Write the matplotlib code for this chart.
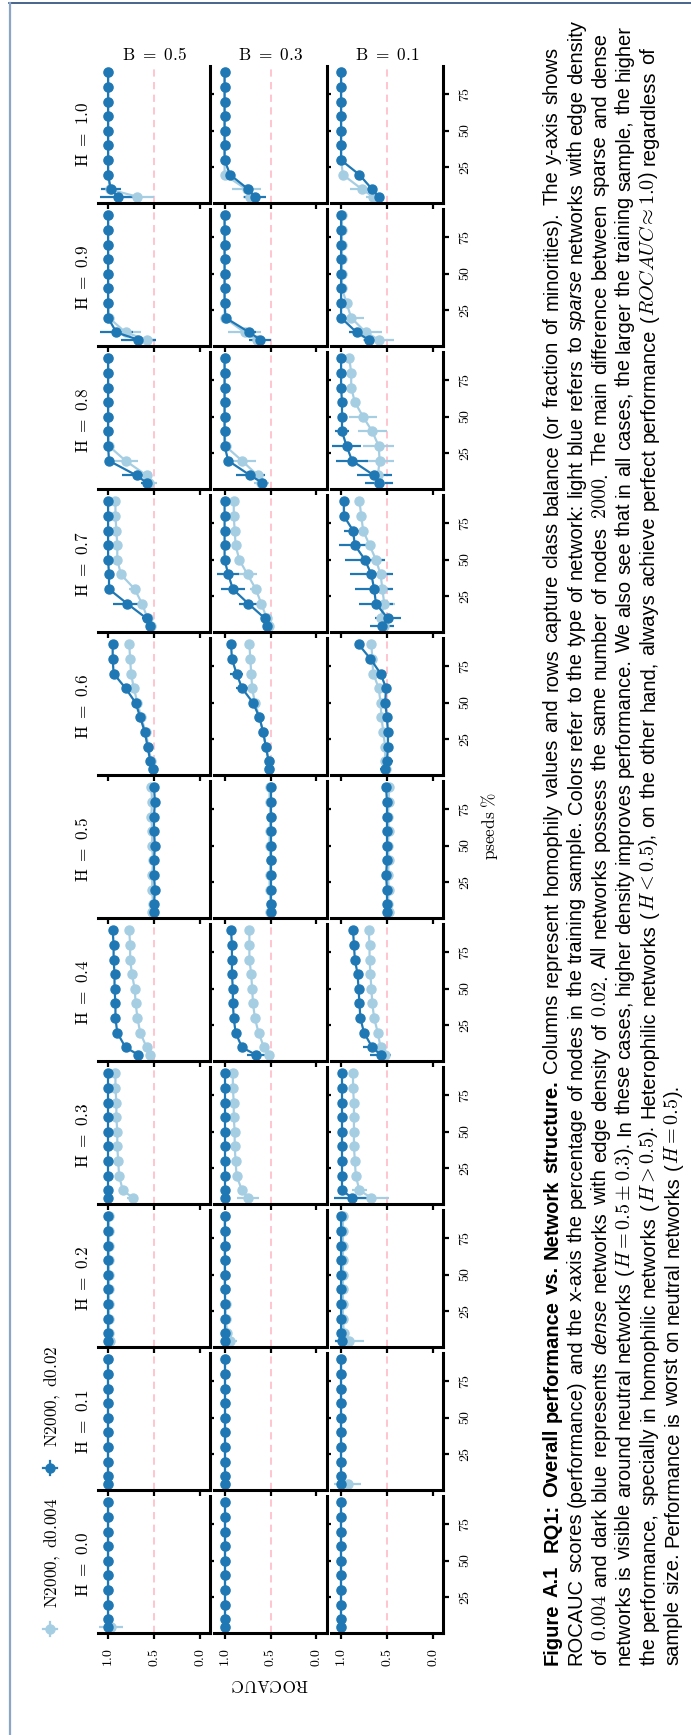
import matplotlib
matplotlib.use("Agg")
import matplotlib.pyplot as plt
from matplotlib.lines import Line2D

# ---- data ----
pseeds = [5, 10, 20, 30, 40, 50, 60, 70, 80, 90]
h_values = [0.0, 0.1, 0.2, 0.3, 0.4, 0.5, 0.6, 0.7, 0.8, 0.9, 1.0]
b_values = [0.5, 0.3, 0.1]
xtick_labels = ["0.0", "0.5", "1.0"]
ytick_labels = ["25", "50", "75"]
legend_labels = ["N2000, d0.004", "N2000, d0.02"]

# rows: H = 0.0 ... 1.0, values in pseeds order
dense_b05 = [
    [1.00, 1.00, 1.00, 1.00, 1.00, 1.00, 1.00, 1.00, 1.00, 1.00],
    [1.00, 1.00, 1.00, 1.00, 1.00, 1.00, 1.00, 1.00, 1.00, 1.00],
    [1.00, 1.00, 1.00, 1.00, 1.00, 1.00, 1.00, 1.00, 1.00, 1.00],
    [1.00, 1.00, 1.00, 1.00, 1.00, 1.00, 1.00, 1.00, 1.00, 1.00],
    [0.67, 0.81, 0.90, 0.92, 0.92, 0.93, 0.93, 0.94, 0.94, 0.95],
    [0.50, 0.50, 0.49, 0.50, 0.50, 0.49, 0.50, 0.50, 0.49, 0.50],
    [0.51, 0.54, 0.57, 0.60, 0.65, 0.70, 0.81, 0.94, 0.95, 0.95],
    [0.54, 0.58, 0.79, 0.99, 0.99, 1.00, 1.00, 1.00, 1.00, 1.00],
    [0.58, 0.69, 0.99, 1.00, 1.00, 1.00, 1.00, 1.00, 1.00, 1.00],
    [0.67, 0.91, 1.00, 1.00, 1.00, 1.00, 1.00, 1.00, 1.00, 1.00],
    [0.89, 0.97, 1.00, 1.00, 1.00, 1.00, 1.00, 1.00, 1.00, 1.00],
]
sparse_b05 = [
    [0.97, 1.00, 1.00, 1.00, 1.00, 1.00, 1.00, 1.00, 1.00, 1.00],
    [1.00, 1.00, 1.00, 1.00, 1.00, 1.00, 1.00, 1.00, 1.00, 1.00],
    [0.98, 0.99, 0.99, 0.99, 0.99, 0.99, 0.99, 0.99, 0.99, 0.99],
    [0.73, 0.84, 0.88, 0.89, 0.90, 0.90, 0.91, 0.91, 0.92, 0.92],
    [0.54, 0.58, 0.65, 0.68, 0.70, 0.71, 0.74, 0.76, 0.76, 0.77],
    [0.52, 0.51, 0.52, 0.52, 0.51, 0.52, 0.52, 0.53, 0.52, 0.53],
    [0.51, 0.53, 0.56, 0.59, 0.64, 0.68, 0.72, 0.75, 0.76, 0.77],
    [0.53, 0.57, 0.63, 0.71, 0.86, 0.90, 0.90, 0.91, 0.92, 0.92],
    [0.55, 0.58, 0.81, 0.99, 1.00, 1.00, 1.00, 1.00, 1.00, 1.00],
    [0.58, 0.81, 0.99, 1.00, 1.00, 1.00, 1.00, 1.00, 1.00, 1.00],
    [0.68, 0.98, 1.00, 1.00, 1.00, 1.00, 1.00, 1.00, 1.00, 1.00],
]
dense_err_b05 = [
    [0.01, 0.00, 0.00, 0.00, 0.00, 0.00, 0.00, 0.00, 0.00, 0.00],
    [0.00, 0.00, 0.00, 0.00, 0.00, 0.00, 0.00, 0.00, 0.00, 0.00],
    [0.01, 0.00, 0.00, 0.00, 0.00, 0.00, 0.00, 0.00, 0.00, 0.00],
    [0.01, 0.00, 0.00, 0.00, 0.00, 0.00, 0.00, 0.00, 0.00, 0.00],
    [0.02, 0.02, 0.01, 0.01, 0.01, 0.01, 0.01, 0.01, 0.01, 0.01],
    [0.01, 0.01, 0.01, 0.01, 0.01, 0.01, 0.01, 0.01, 0.01, 0.01],
    [0.02, 0.02, 0.02, 0.02, 0.02, 0.02, 0.02, 0.02, 0.02, 0.02],
    [0.01, 0.05, 0.16, 0.01, 0.01, 0.00, 0.00, 0.00, 0.00, 0.00],
    [0.06, 0.16, 0.01, 0.00, 0.00, 0.00, 0.00, 0.00, 0.00, 0.00],
    [0.19, 0.18, 0.01, 0.00, 0.00, 0.00, 0.00, 0.00, 0.00, 0.00],
    [0.20, 0.11, 0.00, 0.00, 0.00, 0.00, 0.00, 0.00, 0.00, 0.00],
]
sparse_err_b05 = [
    [0.13, 0.00, 0.00, 0.00, 0.00, 0.00, 0.00, 0.00, 0.00, 0.00],
    [0.00, 0.00, 0.00, 0.00, 0.00, 0.00, 0.00, 0.00, 0.00, 0.00],
    [0.02, 0.01, 0.00, 0.00, 0.00, 0.00, 0.00, 0.00, 0.00, 0.00],
    [0.06, 0.01, 0.01, 0.01, 0.01, 0.01, 0.01, 0.01, 0.01, 0.01],
    [0.02, 0.02, 0.01, 0.01, 0.01, 0.01, 0.01, 0.01, 0.01, 0.01],
    [0.01, 0.01, 0.01, 0.01, 0.01, 0.01, 0.01, 0.01, 0.01, 0.01],
    [0.02, 0.02, 0.02, 0.02, 0.02, 0.02, 0.02, 0.02, 0.02, 0.02],
    [0.02, 0.02, 0.05, 0.06, 0.03, 0.01, 0.01, 0.01, 0.01, 0.01],
    [0.08, 0.04, 0.14, 0.01, 0.00, 0.00, 0.00, 0.00, 0.00, 0.00],
    [0.10, 0.17, 0.01, 0.00, 0.00, 0.00, 0.00, 0.00, 0.00, 0.00],
    [0.18, 0.02, 0.00, 0.00, 0.00, 0.00, 0.00, 0.00, 0.00, 0.00],
]

dense_b03 = [
    [1.00, 1.00, 1.00, 1.00, 1.00, 1.00, 1.00, 1.00, 1.00, 1.00],
    [1.00, 1.00, 1.00, 1.00, 1.00, 1.00, 1.00, 1.00, 1.00, 1.00],
    [1.00, 1.00, 1.00, 1.00, 1.00, 1.00, 1.00, 1.00, 1.00, 1.00],
    [1.00, 1.00, 1.00, 1.00, 1.00, 1.00, 1.00, 1.00, 1.00, 1.00],
    [0.66, 0.81, 0.88, 0.90, 0.91, 0.91, 0.92, 0.92, 0.92, 0.93],
    [0.50, 0.50, 0.50, 0.50, 0.50, 0.50, 0.50, 0.50, 0.50, 0.50],
    [0.52, 0.52, 0.55, 0.58, 0.62, 0.69, 0.81, 0.87, 0.92, 0.93],
    [0.54, 0.56, 0.74, 0.91, 0.96, 1.00, 1.00, 1.00, 1.00, 1.00],
    [0.59, 0.72, 0.96, 1.00, 1.00, 1.00, 1.00, 1.00, 1.00, 1.00],
    [0.61, 0.73, 0.99, 1.00, 1.00, 1.00, 1.00, 1.00, 1.00, 1.00],
    [0.67, 0.74, 0.94, 1.00, 1.00, 1.00, 1.00, 1.00, 1.00, 1.00],
]
sparse_b03 = [
    [1.00, 1.00, 1.00, 1.00, 1.00, 1.00, 1.00, 1.00, 1.00, 1.00],
    [1.00, 1.00, 1.00, 1.00, 1.00, 1.00, 1.00, 1.00, 1.00, 1.00],
    [0.94, 0.97, 0.99, 0.99, 1.00, 1.00, 1.00, 1.00, 1.00, 1.00],
    [0.75, 0.81, 0.87, 0.88, 0.89, 0.89, 0.90, 0.90, 0.91, 0.91],
    [0.52, 0.57, 0.63, 0.67, 0.69, 0.70, 0.71, 0.73, 0.73, 0.73],
    [0.51, 0.50, 0.51, 0.51, 0.50, 0.51, 0.51, 0.50, 0.51, 0.51],
    [0.52, 0.52, 0.55, 0.58, 0.62, 0.67, 0.70, 0.71, 0.72, 0.73],
    [0.52, 0.54, 0.60, 0.66, 0.75, 0.84, 0.88, 0.89, 0.90, 0.90],
    [0.60, 0.64, 0.81, 0.99, 1.00, 1.00, 1.00, 1.00, 1.00, 1.00],
    [0.65, 0.78, 1.00, 1.00, 1.00, 1.00, 1.00, 1.00, 1.00, 1.00],
    [0.72, 0.76, 1.00, 1.00, 1.00, 1.00, 1.00, 1.00, 1.00, 1.00],
]
dense_err_b03 = [
    [0.00, 0.00, 0.00, 0.00, 0.00, 0.00, 0.00, 0.00, 0.00, 0.00],
    [0.00, 0.00, 0.00, 0.00, 0.00, 0.00, 0.00, 0.00, 0.00, 0.00],
    [0.00, 0.00, 0.00, 0.00, 0.00, 0.00, 0.00, 0.00, 0.00, 0.00],
    [0.00, 0.00, 0.00, 0.00, 0.00, 0.00, 0.00, 0.00, 0.00, 0.00],
    [0.10, 0.02, 0.01, 0.01, 0.01, 0.01, 0.01, 0.01, 0.01, 0.01],
    [0.01, 0.01, 0.01, 0.01, 0.01, 0.01, 0.01, 0.01, 0.01, 0.01],
    [0.02, 0.02, 0.02, 0.02, 0.02, 0.03, 0.07, 0.07, 0.02, 0.02],
    [0.02, 0.02, 0.10, 0.13, 0.12, 0.01, 0.00, 0.00, 0.00, 0.00],
    [0.03, 0.16, 0.03, 0.00, 0.00, 0.00, 0.00, 0.00, 0.00, 0.00],
    [0.12, 0.07, 0.01, 0.00, 0.00, 0.00, 0.00, 0.00, 0.00, 0.00],
    [0.12, 0.05, 0.02, 0.00, 0.00, 0.00, 0.00, 0.00, 0.00, 0.00],
]
sparse_err_b03 = [
    [0.00, 0.00, 0.00, 0.00, 0.00, 0.00, 0.00, 0.00, 0.00, 0.00],
    [0.00, 0.00, 0.00, 0.00, 0.00, 0.00, 0.00, 0.00, 0.00, 0.00],
    [0.08, 0.02, 0.01, 0.00, 0.00, 0.00, 0.00, 0.00, 0.00, 0.00],
    [0.12, 0.02, 0.01, 0.01, 0.01, 0.01, 0.01, 0.01, 0.01, 0.01],
    [0.02, 0.02, 0.01, 0.01, 0.01, 0.01, 0.01, 0.01, 0.01, 0.01],
    [0.01, 0.01, 0.01, 0.01, 0.01, 0.01, 0.01, 0.01, 0.01, 0.01],
    [0.02, 0.02, 0.02, 0.02, 0.02, 0.02, 0.02, 0.02, 0.02, 0.02],
    [0.02, 0.02, 0.05, 0.06, 0.10, 0.02, 0.01, 0.01, 0.01, 0.01],
    [0.08, 0.05, 0.15, 0.01, 0.00, 0.00, 0.00, 0.00, 0.00, 0.00],
    [0.05, 0.18, 0.01, 0.00, 0.00, 0.00, 0.00, 0.00, 0.00, 0.00],
    [0.08, 0.16, 0.01, 0.00, 0.00, 0.00, 0.00, 0.00, 0.00, 0.00],
]

dense_b01 = [
    [1.00, 1.00, 1.00, 1.00, 1.00, 1.00, 1.00, 1.00, 1.00, 1.00],
    [1.00, 1.00, 1.00, 1.00, 1.00, 1.00, 1.00, 1.00, 1.00, 1.00],
    [0.99, 1.00, 1.00, 1.00, 1.00, 1.00, 1.00, 1.00, 1.00, 1.00],
    [0.88, 0.99, 0.99, 0.99, 0.99, 0.99, 0.99, 0.99, 0.99, 0.99],
    [0.57, 0.66, 0.75, 0.79, 0.80, 0.81, 0.82, 0.85, 0.86, 0.87],
    [0.50, 0.50, 0.50, 0.51, 0.50, 0.50, 0.50, 0.50, 0.50, 0.51],
    [0.52, 0.50, 0.49, 0.49, 0.50, 0.52, 0.51, 0.57, 0.68, 0.81],
    [0.55, 0.49, 0.62, 0.64, 0.67, 0.74, 0.85, 0.87, 0.97, 0.97],
    [0.59, 0.64, 0.88, 0.94, 0.99, 0.99, 0.99, 1.00, 1.00, 1.00],
    [0.70, 0.83, 1.00, 1.00, 1.00, 1.00, 1.00, 1.00, 1.00, 1.00],
    [0.59, 0.66, 0.80, 1.00, 1.00, 1.00, 1.00, 1.00, 1.00, 1.00],
]
sparse_b01 = [
    [1.00, 1.00, 1.00, 1.00, 1.00, 1.00, 1.00, 1.00, 1.00, 1.00],
    [0.93, 1.00, 1.00, 1.00, 1.00, 1.00, 1.00, 1.00, 1.00, 1.00],
    [0.91, 0.97, 0.98, 0.98, 0.98, 0.98, 0.98, 0.98, 0.98, 0.98],
    [0.67, 0.80, 0.84, 0.85, 0.86, 0.86, 0.86, 0.86, 0.87, 0.87],
    [0.52, 0.57, 0.60, 0.64, 0.66, 0.67, 0.68, 0.69, 0.69, 0.70],
    [0.48, 0.49, 0.48, 0.49, 0.48, 0.49, 0.48, 0.49, 0.48, 0.48],
    [0.51, 0.52, 0.52, 0.54, 0.56, 0.57, 0.59, 0.65, 0.66, 0.67],
    [0.53, 0.57, 0.53, 0.55, 0.57, 0.62, 0.69, 0.76, 0.78, 0.80],
    [0.59, 0.60, 0.58, 0.59, 0.66, 0.76, 0.85, 0.89, 0.89, 0.91],
    [0.59, 0.73, 0.89, 0.94, 0.99, 0.99, 0.99, 0.99, 0.99, 0.99],
    [0.65, 0.77, 0.98, 1.00, 1.00, 1.00, 1.00, 1.00, 1.00, 1.00],
]
dense_err_b01 = [
    [0.00, 0.00, 0.00, 0.00, 0.00, 0.00, 0.00, 0.00, 0.00, 0.00],
    [0.01, 0.00, 0.00, 0.00, 0.00, 0.00, 0.00, 0.00, 0.00, 0.00],
    [0.08, 0.01, 0.00, 0.00, 0.00, 0.00, 0.00, 0.00, 0.00, 0.00],
    [0.20, 0.01, 0.01, 0.01, 0.01, 0.01, 0.01, 0.01, 0.01, 0.01],
    [0.11, 0.10, 0.02, 0.01, 0.01, 0.01, 0.01, 0.01, 0.01, 0.01],
    [0.03, 0.02, 0.02, 0.02, 0.02, 0.02, 0.02, 0.02, 0.02, 0.03],
    [0.06, 0.06, 0.05, 0.03, 0.02, 0.02, 0.02, 0.02, 0.02, 0.02],
    [0.13, 0.14, 0.19, 0.21, 0.23, 0.22, 0.17, 0.10, 0.02, 0.02],
    [0.15, 0.19, 0.17, 0.16, 0.08, 0.02, 0.01, 0.00, 0.00, 0.00],
    [0.05, 0.08, 0.01, 0.00, 0.00, 0.00, 0.00, 0.00, 0.00, 0.00],
    [0.03, 0.03, 0.02, 0.00, 0.00, 0.00, 0.00, 0.00, 0.00, 0.00],
]
sparse_err_b01 = [
    [0.00, 0.00, 0.00, 0.00, 0.00, 0.00, 0.00, 0.00, 0.00, 0.00],
    [0.15, 0.00, 0.00, 0.00, 0.00, 0.00, 0.00, 0.00, 0.00, 0.00],
    [0.16, 0.02, 0.01, 0.01, 0.01, 0.01, 0.01, 0.01, 0.01, 0.01],
    [0.19, 0.08, 0.02, 0.01, 0.01, 0.01, 0.01, 0.01, 0.01, 0.01],
    [0.02, 0.02, 0.01, 0.01, 0.01, 0.01, 0.01, 0.01, 0.01, 0.01],
    [0.02, 0.02, 0.02, 0.02, 0.02, 0.02, 0.02, 0.02, 0.02, 0.02],
    [0.03, 0.03, 0.03, 0.03, 0.02, 0.02, 0.02, 0.02, 0.02, 0.02],
    [0.03, 0.04, 0.12, 0.10, 0.10, 0.08, 0.03, 0.02, 0.02, 0.02],
    [0.05, 0.05, 0.16, 0.17, 0.16, 0.15, 0.03, 0.02, 0.02, 0.02],
    [0.17, 0.18, 0.14, 0.02, 0.01, 0.01, 0.01, 0.01, 0.01, 0.01],
    [0.08, 0.13, 0.02, 0.00, 0.00, 0.00, 0.00, 0.00, 0.00, 0.00],
]

dense = [dense_b05, dense_b03, dense_b01]
sparse = [sparse_b05, sparse_b03, sparse_b01]
dense_err = [dense_err_b05, dense_err_b03, dense_err_b01]
sparse_err = [sparse_err_b05, sparse_err_b03, sparse_err_b01]

light = "#a6cee3"
dark = "#1f78b4"

plt.rcParams["mathtext.fontset"] = "cm"
plt.rcParams["font.family"] = ["Liberation Sans", "DejaVu Sans"]

W, H = 691, 1735
fig = plt.figure(figsize=(W / 100, H / 100), dpi=100)


def fx(px):
    return px / W


def fy(py):
    return 1 - py / H


gs = fig.add_gridspec(11, 3, left=fx(98), right=fx(443), top=fy(66),
                      bottom=fy(1633), wspace=0.04, hspace=0.044)

axes = {}
for c, bv in enumerate(b_values):
    for i, hv in enumerate(h_values):
        r = len(h_values) - 1 - i
        ax = fig.add_subplot(gs[r, c])
        axes[(r, c)] = ax
        ax.axvline(0.5, color="pink", ls=(0, (4, 3)), lw=1.3, zorder=0)
        ax.errorbar(sparse[c][i], pseeds, xerr=sparse_err[c][i], color=light,
                    marker="o", ms=6.5, lw=1.6, elinewidth=1.6, capsize=0)
        ax.errorbar(dense[c][i], pseeds, xerr=dense_err[c][i], color=dark,
                    marker="o", ms=6.5, lw=1.6, elinewidth=1.6, capsize=0)
        ax.set_xlim(1.11, -0.11)
        ax.set_ylim(0.75, 94.25)
        for s in ["left", "top"]:
            ax.spines[s].set_visible(False)
        for s in ["bottom", "right"]:
            ax.spines[s].set_linewidth(2.2)
        ax.yaxis.tick_right()
        ax.set_xticks([0.0, 0.5, 1.0])
        ax.set_yticks([25, 50, 75])
        ax.tick_params(axis="both", direction="out", length=4.5, width=1.6,
                       pad=6, labelsize=10)
        if r == len(h_values) - 1:
            ax.set_xticklabels(["$%s$" % t for t in xtick_labels], rotation=90)
        else:
            ax.tick_params(labelbottom=False)
        if c == 2:
            ax.set_yticklabels(["$%s$" % t for t in ytick_labels], rotation=90,
                               va="center")
        else:
            ax.tick_params(labelright=False)

# column titles (B) and row titles (H)
for c, bv in enumerate(b_values):
    pos = axes[(0, c)].get_position()
    fig.text((pos.x0 + pos.x1) / 2, fy(55), r"$\mathrm{B\ =\ %.1f}$" % bv,
             ha="center", va="center", fontsize=12.4)
for i, hv in enumerate(h_values):
    pos = axes[(len(h_values) - 1 - i, 0)].get_position()
    fig.text(fx(83), (pos.y0 + pos.y1) / 2, r"$\mathrm{H\ =\ %.1f}$" % hv,
             rotation=90, ha="center", va="center", fontsize=12.4)

pos = axes[(10, 1)].get_position()
fig.text((pos.x0 + pos.x1) / 2, fy(1684), r"$\mathrm{ROCAUC}$", rotation=180,
         ha="center", va="center", fontsize=12.4)
fig.text(fx(490), fy(826), r"$\mathrm{pseeds}\ \%$", rotation=90,
         ha="center", va="center", fontsize=12.4)

# legend (drawn rotated by hand)
for (yc, ytxt), color, lab in zip([(1629, 1608), (1468, 1447)], [light, dark],
                                  legend_labels):
    fig.add_artist(Line2D([fx(43), fx(57)], [fy(yc), fy(yc)], color=color,
                          lw=1.6, transform=fig.transFigure))
    fig.add_artist(Line2D([fx(50), fx(50)], [fy(yc - 7), fy(yc + 7)],
                          color=color, lw=1.6, transform=fig.transFigure))
    fig.add_artist(Line2D([fx(50)], [fy(yc)], marker="o", ms=6.5, color=color,
                          transform=fig.transFigure))
    fig.text(fx(52), fy(ytxt), r"$\mathrm{%s}$" % lab.replace(" ", r"\ "),
             rotation=90, rotation_mode="anchor", ha="left", va="center",
             fontsize=12.4)

# page frame
fig.add_artist(Line2D([fx(9), 1], [fy(3), fy(3)], color="#2a4a78", lw=1.2,
                      transform=fig.transFigure))
fig.add_artist(Line2D([fx(10), fx(10)], [fy(3), 0], color="#8ca4c6", lw=1.6,
                      transform=fig.transFigure))

# caption, rotated, one text per word so lines can be justified
caption_lines = [
    [("Figure A.1  RQ1: Overall performance vs. Network structure.", "b", False),
     ("Columns represent homophily values and rows capture class balance (or fraction of minorities). The y-axis shows", "r", True)],
    [("ROCAUC scores (performance) and the x-axis the percentage of nodes in the training sample. Colors refer to the type of network: light blue refers to", "r", False),
     ("sparse", "i", True), ("networks with edge density", "r", True)],
    [("of", "r", False), ("$0.004$", "m", True), ("and dark blue represents", "r", True),
     ("dense", "i", True), ("networks with edge density of", "r", True), ("$0.02$", "m", True),
     (". All networks possess the same number of nodes", "r", False), ("$2000$", "m", True),
     (". The main difference between sparse and dense", "r", False)],
    [("networks is visible around neutral networks (", "r", False), (r"$H = 0.5 \pm 0.3$", "m", False),
     ("). In these cases, higher density improves performance. We also see that in all cases, the larger the training sample, the higher", "r", False)],
    [("the performance, specially in homophilic networks (", "r", False), ("$H > 0.5$", "m", False),
     ("). Heterophilic networks (", "r", False), ("$H < 0.5$", "m", False),
     ("), on the other hand, always achieve perfect performance (", "r", False),
     (r"$ROCAUC \approx 1.0$", "m", False), (") regardless of", "r", False)],
    [("sample size. Performance is worst on neutral networks (", "r", False), ("$H = 0.5$", "m", False),
     (").", "r", False)],
]
line_ends = [47, 20, 33, 25, 47, None]
styles = {
    "r": dict(family="Liberation Sans"),
    "b": dict(family="Liberation Sans", weight="bold"),
    "i": dict(family="Liberation Sans", style="italic"),
    "m": dict(family="Liberation Sans"),
}
renderer = fig.canvas.get_renderer()


def tokens_of(segs):
    out = []
    for text, kind, gap in segs:
        if kind == "m":
            out.append((text, kind, 1 if gap else 0))
            continue
        g = 1 if gap else 0
        for word in text.split(" "):
            if word == "":
                g += 1
                continue
            out.append((word, kind, g))
            g = 1
    return out


def layout_line(segs, xb, y0, size, y_end=None, keep=True):
    toks = tokens_of(segs)
    texts, widths = [], []
    for word, kind, g in toks:
        t = fig.text(fx(xb), y0 / H, word, rotation=90, rotation_mode="anchor",
                     ha="left", va="baseline", fontsize=size, **styles[kind])
        texts.append(t)
        widths.append(t.get_window_extent(renderer).height)
    n_gaps = sum(g for _, _, g in toks)
    space = 0.278 * size * 100 / 72
    if y_end is not None:
        space = (y_end - y0 - sum(widths)) / n_gaps
    y = y0
    for t, w, (_, _, g) in zip(texts, widths, toks):
        y += g * space
        t.set_position((fx(xb), y / H))
        y += w
    if not keep:
        for t in texts:
            t.remove()
    return y - y0


y_start = H - 1665
base = layout_line(caption_lines[1], 580, y_start, 10, keep=False)
cap_size = 10 * (1665 - 20) / base
for k, segs in enumerate(caption_lines):
    end = None if line_ends[k] is None else H - line_ends[k]
    layout_line(segs, 557.5 + 24.2 * k, y_start, cap_size, y_end=end)

fig.savefig("out.png", dpi=100)
